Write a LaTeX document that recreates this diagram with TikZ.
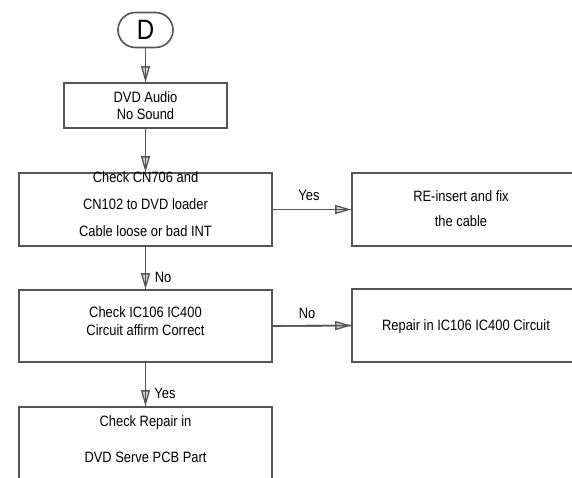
\documentclass[tikz,border=0pt]{standalone}
\usepackage{fontspec}
\setmainfont{Liberation Sans}[FakeStretch=0.86]
\usetikzlibrary{arrows.meta}
\definecolor{linegray}{HTML}{555555}
\begin{document}
\begin{tikzpicture}[x=1pt,y=-1pt,line width=1.6pt,
  box/.style={draw=linegray,rectangle,inner sep=0pt},
  lbl/.style={inner sep=0pt,text=black,align=center},
  arr/.style={draw=linegray,-{Triangle[length=16pt,width=9pt,open,fill=gray!35,line width=1.3pt]},
    postaction={draw=linegray,-}}]
\useasboundingbox (0,0) rectangle (572,477);
\clip (0,0) rectangle (572,477);
% boxes
\node[box,minimum width=55pt,minimum height=35pt,rounded corners=17.5pt,font=\fontsize{28}{30}\selectfont] (d) at (145.5,30) {D};
\node[box,minimum width=163pt,minimum height=45pt] (b1) at (145.5,105.5) {};
\node[box,minimum width=253pt,minimum height=73pt] (b2) at (145.5,209.5) {};
\node[box,minimum width=253pt,minimum height=72pt] (b3) at (145.5,326) {};
\node[box,minimum width=253pt,minimum height=90pt] (b4) at (145.5,452) {};
\node[box,minimum width=228pt,minimum height=73pt] (r1) at (466,209.5) {};
\node[box,minimum width=228pt,minimum height=73pt] (r2) at (466,325.5) {};
% texts
\node[lbl,font=\fontsize{15}{17}\selectfont] (t1) at (145.5,106) {DVD Audio\\No Sound};
\node[lbl,font=\fontsize{15}{27}\selectfont] (t2) at (145.5,204.5) {Check CN706 and\\CN102 to DVD loader\\Cable loose or bad INT};
\node[lbl,font=\fontsize{15}{18}\selectfont] (t3) at (145.5,321.5) {Check IC106 IC400\\Circuit affirm Correct};
\node[lbl,font=\fontsize{15}{36}\selectfont] (t4) at (145.5,439.5) {Check Repair in\\DVD Serve PCB Part};
\node[lbl,font=\fontsize{15}{25}\selectfont] (tr1) at (461,209) {RE-insert and fix\\the cable};
\node[lbl,font=\fontsize{15}{18}\selectfont] (tr2) at (466,327) {Repair in IC106 IC400 Circuit};
% labels
\node[lbl,font=\fontsize{15}{18}\selectfont] (lyes1) at (309,195) {Yes};
\node[lbl,font=\fontsize{15}{18}\selectfont] (lno1) at (163,277) {No};
\node[lbl,font=\fontsize{15}{18}\selectfont] (lno2) at (307,313) {No};
\node[lbl,font=\fontsize{15}{18}\selectfont] (lyes2) at (165,393) {Yes};
% connectors
\draw[arr] (d.south) -- (b1.north);
\draw[arr] (b1.south) -- (b2.north);
\draw[arr] (b2.south) -- (b3.north);
\draw[arr] (b3.south) -- (b4.north);
\draw[arr] (b2.east) -- (r1.west);
\draw[arr] (b3.east) -- (r2.west);
\end{tikzpicture}
\end{document}
